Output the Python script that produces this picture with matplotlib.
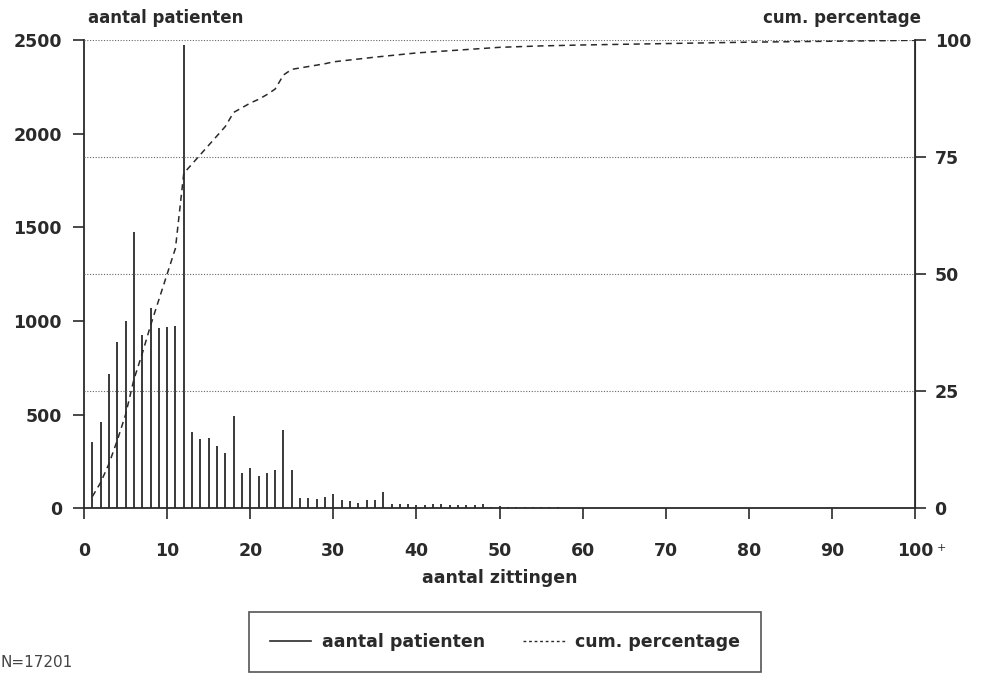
import numpy as np
import matplotlib
matplotlib.use('Agg')
import matplotlib.pyplot as plt
from matplotlib.lines import Line2D

# aantal patienten per aantal zittingen (1 .. 100+)
zittingen = list(range(1, 101))
patienten = [355, 460, 715, 890, 1000, 1475, 925, 1070, 960, 970,
             975, 2470, 405, 372, 375, 335, 297, 493, 188, 214,
             174, 190, 204, 420, 206, 53, 57, 47, 60, 78,
             45, 40, 30, 42, 42, 87, 25, 22, 22, 18,
             15, 25, 25, 17, 17, 18, 18, 22, 8, 10,
             8, 7, 6, 6, 5, 5, 5, 4, 4, 4,
             3, 3, 3, 3, 3, 3, 3, 2, 2, 2,
             2, 2, 2, 2, 2, 2, 2, 2, 2, 2,
             1, 1, 1, 1, 1, 1, 1, 1, 1, 1,
             1, 1, 1, 1, 1, 1, 1, 1, 1, 3]

cum_x = list(range(1, 31)) + [35, 40, 45, 50, 55, 60, 70, 80, 90, 100]
cum_pct = [2.5, 5.5, 9.5, 14.5, 20.0, 27.5, 33.0, 39.0, 44.5, 50.0,
           55.5, 71.5, 73.5, 75.5, 77.5, 79.5, 81.5, 84.5, 85.5, 86.5,
           87.3, 88.3, 89.5, 92.5, 93.7, 94.0, 94.3, 94.6, 94.9, 95.3,
           96.3, 97.2, 97.8, 98.4, 98.7, 98.9, 99.2, 99.5, 99.7, 99.9]

left_ticks = [0, 500, 1000, 1500, 2000, 2500]
right_ticks = [0, 25, 50, 75, 100]
x_ticks = [0, 10, 20, 30, 40, 50, 60, 70, 80, 90, 100]

INK = '#2a2a2a'
plt.rcParams.update({'font.family': 'DejaVu Sans', 'text.color': INK,
                     'axes.edgecolor': INK, 'xtick.color': INK, 'ytick.color': INK,
                     'axes.labelcolor': INK})

fig = plt.figure(figsize=(9.84, 6.75), dpi=100)
ax = fig.add_axes([0.0854, 0.247, 0.8446, 0.694])
ax2 = ax.twinx()

ax.vlines(zittingen, 0, patienten, color=INK, lw=1.3)
ax.set_xlim(0, 100)
ax.set_ylim(0, 2500)
ax.set_yticks(left_ticks)
ax.set_xticks(x_ticks)
ax.set_xticklabels([str(t) for t in x_ticks], fontsize=12.5, fontweight='bold')
ax.set_yticklabels([str(t) for t in left_ticks], fontsize=12.5, fontweight='bold')
ax.tick_params(axis='y', direction='out', length=8, width=1.2, pad=8)
ax.tick_params(axis='x', direction='out', length=8, width=1.2, pad=16)
ax.spines['top'].set_visible(False)
for s in ['left', 'bottom']:
    ax.spines[s].set_linewidth(1.3)
ax.set_xlabel('aantal zittingen', fontsize=12.5, fontweight='bold', labelpad=7)

ax2.set_ylim(0, 100)
ax2.set_yticks(right_ticks)
ax2.set_yticklabels([str(t) for t in right_ticks], fontsize=12.5, fontweight='bold')
ax2.tick_params(axis='y', direction='out', length=8, width=1.2, pad=6)
ax2.spines['top'].set_visible(False)
ax2.spines['left'].set_visible(False)
ax2.spines['bottom'].set_visible(False)
ax2.spines['right'].set_linewidth(1.3)
for g in right_ticks[1:]:
    ax2.axhline(g, color='#666666', lw=0.8, ls=(0, (1, 1.5)), zorder=0)
ax2.plot(cum_x, cum_pct, color=INK, lw=1.1, ls=(0, (4, 3)))

fig.text(0.952, 0.188, '+', fontsize=8, color=INK, va='center')
fig.text(0.089, 0.973, 'aantal patienten', fontsize=12, fontweight='bold', va='center')
fig.text(0.936, 0.973, 'cum. percentage', fontsize=12, fontweight='bold', va='center', ha='right')
fig.text(0.0, 0.018, 'N=17201', fontsize=11, color='#444444', va='center')

handles = [Line2D([], [], color=INK, lw=1.2),
           Line2D([], [], color=INK, lw=1.0, ls=(0, (2, 2)))]
leg = fig.legend(handles, ['aantal patienten', 'cum. percentage'], ncol=2,
                 loc='center', bbox_to_anchor=(0.513, 0.049), frameon=True,
                 fancybox=False, edgecolor=INK, handlelength=2.4, columnspacing=2.2,
                 handletextpad=0.6, borderpad=1.2, borderaxespad=0,
                 prop={'size': 12.5, 'weight': 'bold'})
leg.get_frame().set_linewidth(1.2)

fig.savefig('out.png', dpi=100)
